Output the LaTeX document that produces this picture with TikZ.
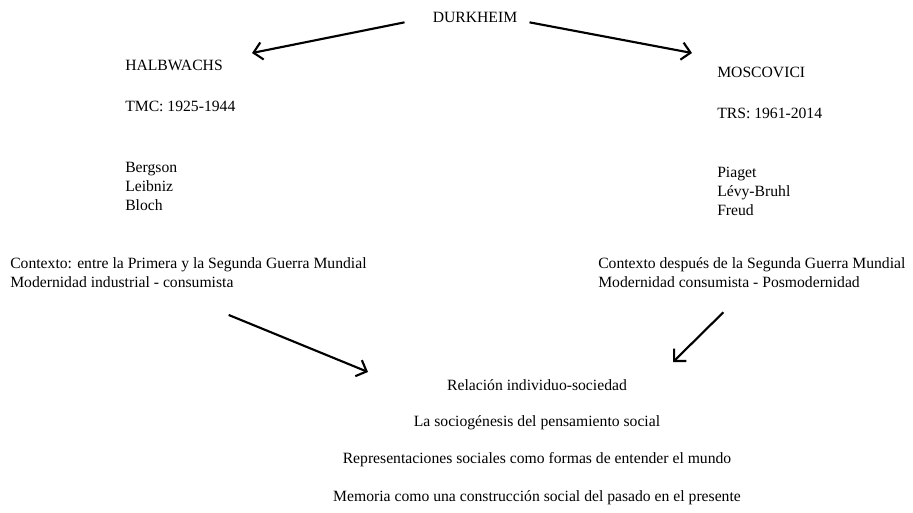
\documentclass[tikz,border=0pt]{standalone}
\usepackage{fontspec}
\setmainfont{Liberation Serif}
\usetikzlibrary{arrows.meta}
\tikzset{txt/.style={inner sep=0pt, anchor=west, align=left, font=\fontsize{11.75}{14.25}\selectfont},
         mid/.style={inner sep=0pt, font=\fontsize{11.75}{14.25}\selectfont},
         arr/.style={line width=1.6pt, -{Straight Barb[length=6.5pt,width=13pt,line width=1.6pt]}},
        }

\begin{document}
\begin{tikzpicture}[x=0.75pt,y=-0.75pt]
        \useasboundingbox (0,0) rectangle (913,512);
        \node[mid](durk)at(475,17){DURKHEIM};

        \node[txt](halb)at(125,65){HALBWACHS};
        \node[txt](tmc)at(125,106){TMC: 1925-1944};
        \node[txt](halbinf)at(125,186){Bergson\\Leibniz\\Bloch};
        \node[txt](ctxa)at(10,273){Contexto: entre la Primera y la Segunda Guerra Mundial\\Modernidad industrial - consumista};

        \node[txt](mosc)at(717,72){MOSCOVICI};
        \node[txt](trs)at(717,113){TRS: 1961-2014};
        \node[txt](moscinf)at(717,191){Piaget\\L\'evy-Bruhl\\Freud};
        \node[txt](ctxb)at(598,273){Contexto despu\'es de la Segunda Guerra Mundial\\Modernidad consumista - Posmodernidad};

        \node[mid](rel)at(537,385){Relaci\'on individuo-sociedad};
        \node[mid](socio)at(537,423){La sociog\'enesis del pensamiento social};
        \node[mid](repr)at(537,460){Representaciones sociales como formas de entender el mundo};
        \node[mid](mem)at(537,498){Memoria como una construcci\'on social del pasado en el presente};

        \coordinate(halbtip)at(252,53);
        \coordinate(mosctip)at(692,53);
        \coordinate(relleft)at(368,372);
        \coordinate(relright)at(673,362);

        \draw[arr]([xshift=-21pt,yshift=-4pt]durk.west)--(halbtip);
        \draw[arr]([xshift=9pt,yshift=-4pt]durk.east)--(mosctip);
        \draw[arr]([xshift=164pt,yshift=-20pt]ctxa.south west)--(relleft);
        \draw[arr]([xshift=94pt,yshift=-18pt]ctxb.south west)--(relright);
    \end{tikzpicture}
\end{document}
